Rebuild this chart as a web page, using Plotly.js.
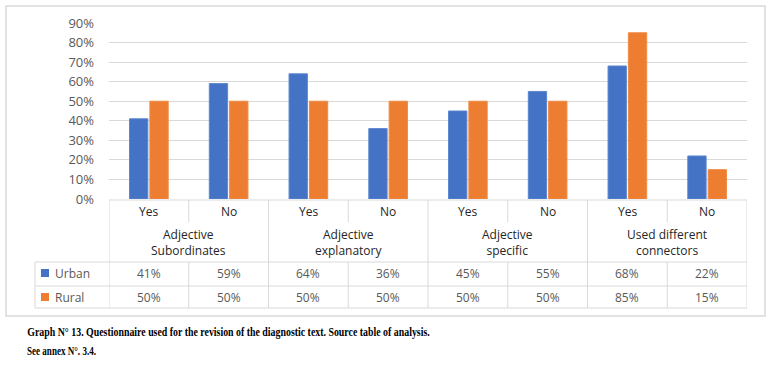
<!DOCTYPE html>
<html>
<head>
<meta charset="utf-8">
<script src="https://cdn.plot.ly/plotly-3.0.1.min.js"></script>
<style>html,body{margin:0;padding:0;background:#fff;}#chart{width:774px;height:370px;}</style>
</head>
<body>
<div id="chart"></div>
<script>
// ---- data ----
const groups = ['Adjective<br>Subordinates', 'Adjective<br>explanatory', 'Adjective<br>specific', 'Used different<br>connectors'];
const answers = ['Yes', 'No', 'Yes', 'No', 'Yes', 'No', 'Yes', 'No'];
const seriesNames = ['Urban', 'Rural'];
const urban = [41, 59, 64, 36, 45, 55, 68, 22];
const rural = [50, 50, 50, 50, 50, 50, 85, 15];
const yTicks = [0, 10, 20, 30, 40, 50, 60, 70, 80, 90];
const caption = ['Graph N° 13. Questionnaire used for the revision of the diagnostic text. Source table of analysis.', 'See annex N°. 3.4.'];

// ---- layout helpers ----
const W = 774, H = 370;
const L = 109, R = 747, T = 23, B = 199;
const px = v => (v - L) / (R - L);
const py = v => (B - v) / (B - T);
const idx = answers.map((_, i) => i);
const BLUE = '#4472C4', ORANGE = '#ED7D31', GRID = '#D9D9D9', TXT = '#595959';
const FONT = 'Open Sans, Noto Sans, sans-serif';
const CAPTION_WIDTHS = [403, 69];

const traces = [
  {type: 'bar', name: seriesNames[0], x: idx, y: urban, marker: {color: BLUE, line: {color: '#5B86D0', width: 1}}, hoverinfo: 'y'},
  {type: 'bar', name: seriesNames[1], x: idx, y: rural, marker: {color: ORANGE, line: {color: '#F08B45', width: 1}}, hoverinfo: 'y'}
];

const shapes = [];
const annotations = [];
const line = (x0, y0, x1, y1) => shapes.push({type: 'line', xref: 'x', yref: 'paper', x0: x0, x1: x1, y0: py(y0), y1: py(y1), line: {color: GRID, width: 1}});
const pline = (x0, y0, x1, y1) => shapes.push({type: 'line', xref: 'paper', yref: 'paper', x0: x0, x1: x1, y0: py(y0), y1: py(y1), line: {color: GRID, width: 1}});

// outer frame
shapes.push({type: 'rect', xref: 'paper', yref: 'paper', x0: px(6), x1: px(765), y0: py(316), y1: py(6), line: {color: GRID, width: 1.5}, layer: 'below'});

const n = answers.length;
// horizontal table lines
line(-0.5, 200, n - 0.5, 200);
[262, 286, 308].forEach(yv => pline(px(35), yv, 1, yv));
pline(px(35), 262, px(35), 308);
// vertical lines
for (let k = 0; k <= n; k++) {
  const xv = k - 0.5;
  if (k % 2 === 0) line(xv, 200, xv, 308);
  else { line(xv, 200, xv, 222); line(xv, 262, xv, 308); }
}

// answer labels
answers.forEach((a, i) => annotations.push({xref: 'x', yref: 'paper', x: i, y: py(211), text: a, showarrow: false, font: {family: FONT, size: 12, color: '#262626'}, xanchor: 'center', yanchor: 'middle'}));
// group labels
groups.forEach((g, k) => annotations.push({xref: 'x', yref: 'paper', x: 2 * k + 0.5, y: py(242), text: g, showarrow: false, font: {family: FONT, size: 12, color: '#262626'}, xanchor: 'center', yanchor: 'middle'}));
// data rows
[urban, rural].forEach((vals, r) => {
  const yc = r === 0 ? 273 : 297;
  vals.forEach((v, i) => annotations.push({xref: 'x', yref: 'paper', x: i, y: py(yc), text: v + '%', showarrow: false, font: {family: FONT, size: 12, color: TXT}, xanchor: 'center', yanchor: 'middle'}));
  shapes.push({type: 'rect', xref: 'paper', yref: 'paper', x0: px(41), x1: px(49), y0: py(yc + 4), y1: py(yc - 4), fillcolor: r === 0 ? BLUE : ORANGE, line: {width: 0}});
  annotations.push({xref: 'paper', yref: 'paper', x: px(53), y: py(yc), text: seriesNames[r], showarrow: false, font: {family: FONT, size: 12, color: TXT}, xanchor: 'left', yanchor: 'middle'});
});
// caption
const capStart = annotations.length;
caption.forEach((c, i) => annotations.push({xref: 'paper', yref: 'paper', x: px(25), y: py(i === 0 ? 331 : 350), text: '<b>' + c + '</b>', showarrow: false, font: {family: 'Liberation Serif, Times New Roman, serif', size: 13, color: '#000'}, xanchor: 'left', yanchor: 'middle'}));

const layout = {
  width: W, height: H,
  margin: {l: L, r: W - R, t: T, b: H - B, pad: 0},
  paper_bgcolor: '#fff', plot_bgcolor: '#fff',
  showlegend: false,
  barmode: 'group', bargap: 0.49, bargroupgap: 0.1,
  xaxis: {range: [-0.5, n - 0.5], showticklabels: false, showgrid: false, zeroline: false, ticks: '', fixedrange: true},
  yaxis: {range: [0, 90], tickvals: yTicks, ticktext: yTicks.map(v => v + '%'), showgrid: true, gridcolor: GRID, gridwidth: 1, zeroline: false, ticks: '', ticklabelstandoff: 14, tickfont: {family: FONT, size: 13, color: TXT}, fixedrange: true},
  shapes: shapes,
  annotations: annotations
};

Plotly.newPlot('chart', traces, layout, {displayModeBar: false, staticPlot: true}).then(gd => {
  // condense the caption text horizontally, as in the reference figure
  const anns = gd.querySelectorAll('.annotation');
  caption.forEach((c, i) => {
    const a = anns[capStart + i];
    if (!a) return;
    const t = a.querySelector('text.annotation-text');
    if (!t) return;
    const bb = t.getBBox();
    const x0 = bb.x;
    t.setAttribute('transform', 'translate(' + x0 + ',0) scale(' + (CAPTION_WIDTHS[i] / bb.width) + ',1) translate(' + (-x0) + ',0)');
  });
});
</script>
</body>
</html>
